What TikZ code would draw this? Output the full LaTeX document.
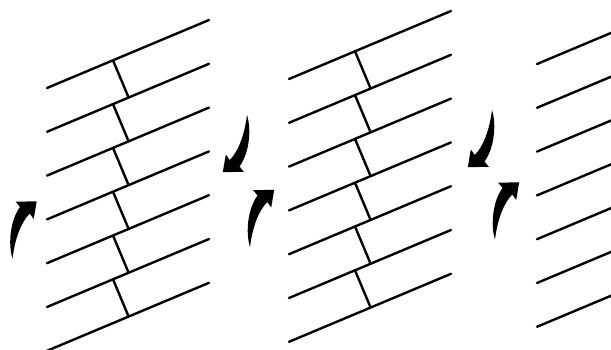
\documentclass[tikz,border=0pt]{standalone}
\begin{document}
\begin{tikzpicture}[x=1pt,y=-1pt,
  plank/.style={line width=2.4pt, line cap=round},
  rungline/.style={line width=2.4pt},
  turnarrow/.pic={\fill (0,0) .. controls (-4.5,-14) and (-2.5,-38) .. (7.5,-51.5) -- (3.2,-56.8) -- (24.2,-57.2) -- (21.2,-39.5) -- (17.2,-45) .. controls (8.5,-36) and (2.5,-20) .. (0,0) -- cycle;}
]
\useasboundingbox (0,0) rectangle (611,349);
\clip (0,0) rectangle (611,349);
% long lines of the three panels
\foreach \ox/\oy in {0/0, 242/-9, 490/-24} {
  \foreach \i in {0,...,6} {
    \draw[plank] (47+\ox, 88+\oy+43.8*\i) -- ++(162,-68);
  }
}
% cross pieces of the first two panels
\foreach \ox/\oy in {0/0, 242/-9} {
  \foreach \i in {0,...,5} {
    \draw[rungline] (113+\ox, 60.3+\oy+43.8*\i) -- ++(15.6,37.2);
  }
}
% turning arrows
\pic at (12.5,258.5) {turnarrow};
\pic at (250,247) {turnarrow};
\pic at (495,239.5) {turnarrow};
\pic[rotate=180] at (247,115) {turnarrow};
\pic[rotate=180] at (492,110) {turnarrow};
\end{tikzpicture}
\end{document}
